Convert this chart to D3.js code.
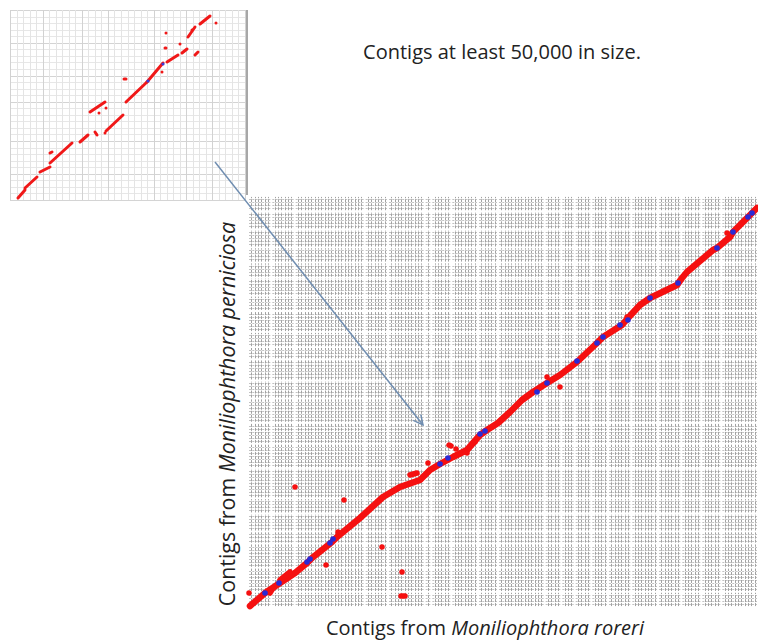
<!DOCTYPE html>
<html>
<head>
<meta charset="utf-8">
<script src="https://cdn.jsdelivr.net/npm/d3@7"></script>
<style>
  body { margin: 0; background: #fff; }
  svg { display: block; }
  .lbl { font-family: "Open Sans", sans-serif; fill: #222; }
</style>
</head>
<body>
<div id="graphic"></div>
<script>
// ---- data ----
// genome lengths, arbitrary units (main = big plot, inset = small plot)
var MAIN_X_LEN = 510, MAIN_Y_LEN = 411;
var INSET_X_LEN = 235, INSET_Y_LEN = 190;

// contigs per block (blocks are separated by a visible white gap)
var mainXBlocks = [7, 7, 21, 7, 11, 2, 6, 8, 6, 14, 5, 4, 5, 5, 7, 8, 7, 6, 6, 11];
var mainYBlocks = [5, 8, 8, 4, 6, 5, 10, 8, 7, 8, 6, 7, 4, 5, 7, 5, 6, 5, 5, 6, 6, 5];
var insetXBlocks = [5, 6, 4, 7, 5, 4, 5];
var insetYBlocks = [4, 5, 6, 4, 5, 5];

// main diagonal of forward hits (x = roreri, y = perniciosa)
var mainChain = [
  [2, 1], [17, 14], [32, 24], [47, 34], [59, 44], [64, 49], [84, 65], [89, 70],
  [112, 89], [135, 110], [152, 120], [172, 127], [182, 137], [192, 143], [205, 150],
  [219, 157], [232, 172], [239, 177], [250, 184], [262, 195], [274, 207], [285, 215],
  [299, 224], [312, 232], [329, 245], [349, 264], [355, 270], [374, 282], [380, 289],
  [392, 302], [402, 309], [429, 322], [434, 329], [439, 335], [465, 357], [469, 359],
  [482, 370], [485, 375], [499, 389], [509, 399]
];
// other forward hits [x1, y1, x2, y2]
var mainHits = [
  [1, 14, 1, 14], [22, 14, 25, 19], [32, 27, 42, 35], [78, 42, 78, 42], [90, 75, 90, 75],
  [47, 120, 47, 120], [96, 107, 96, 107], [134, 60, 134, 60], [154, 35, 154, 35],
  [153, 11, 157, 11], [162, 132, 169, 134], [180, 144, 180, 144], [201, 162, 203, 161],
  [208, 158, 208, 158], [219, 154, 219, 154], [227, 165, 227, 165], [299, 230, 299, 230],
  [312, 220, 312, 220], [379, 290, 379, 290], [479, 374, 479, 374]
];
// reverse hits
var mainReverse = [
  [17, 14], [31, 24], [59, 45], [62, 48], [82, 64], [85, 68], [192, 143], [200, 149],
  [232, 173], [237, 176], [289, 215], [299, 224], [329, 246], [349, 264], [355, 270],
  [372, 282], [380, 287], [402, 309], [430, 324], [469, 359], [485, 375], [500, 390], [504, 394]
];

var insetHits = [
  [8, 2, 15, 10], [15, 12, 27, 23], [30, 28, 40, 33], [40, 37, 62, 57], [70, 58, 78, 65],
  [96, 69, 113, 85], [80, 88, 95, 98], [116, 98, 137, 118], [137, 118, 153, 137],
  [157, 138, 168, 145], [172, 147, 177, 151], [178, 163, 185, 173], [190, 176, 200, 184],
  [185, 145, 188, 148], [40, 47, 42, 48], [85, 68, 87, 65], [95, 67, 95, 67],
  [89, 87, 89, 87], [96, 92, 96, 92], [114, 121, 116, 121], [152, 128, 152, 128],
  [155, 152, 156, 152], [156, 167, 156, 167], [170, 156, 170, 156], [206, 177, 206, 177],
  [182, 170, 182, 170]
];
var insetReverse = [[153, 136], [138, 119]];

// arrow from a point of the inset to a point of the main plot
var arrowFrom = [205, 38];   // inset units
var arrowTo = [175, 182];    // main units

var titleText = "Contigs at least 50,000 in size.";

// ---- drawing ----
var width = 758, height = 641;
var svg = d3.select('#graphic').append('svg')
  .attr('width', width).attr('height', height);

var main = {left: 248, right: 758, top: 196, bottom: 607};
var inset = {left: 10, right: 245, top: 10, bottom: 200};

var x = d3.scaleLinear().domain([0, MAIN_X_LEN]).range([main.left, main.right]);
var y = d3.scaleLinear().domain([0, MAIN_Y_LEN]).range([main.bottom, main.top]);
var ix = d3.scaleLinear().domain([0, INSET_X_LEN]).range([inset.left, inset.right]);
var iy = d3.scaleLinear().domain([0, INSET_Y_LEN]).range([inset.bottom, inset.top]);

// contig boundaries inside each block, and the block extents
function blockInfo(blocks) {
  var acc = 0, spans = [], lines = [];
  blocks.forEach(function(n) {
    spans.push([acc, acc + n]);
    for (var i = acc + 1; i < acc + n; i++) lines.push(i);
    acc += n;
  });
  return {total: acc, spans: spans, lines: lines};
}
function px(v) { return Math.round(v) + 0.5; }

// main grid: lines stop short of the white gaps between blocks
var bx = blockInfo(mainXBlocks), by = blockInfo(mainYBlocks);
var cx = d3.scaleLinear().domain([0, bx.total]).range([main.left, main.right]);
var cy = d3.scaleLinear().domain([0, by.total]).range([main.bottom, main.top]);
var pad = 0.3;

var hSegs = [], vSegs = [];
by.lines.forEach(function(j) {
  bx.spans.forEach(function(s) { hSegs.push({j: j, s: s}); });
});
bx.lines.forEach(function(i) {
  by.spans.forEach(function(s) { vSegs.push({i: i, s: s}); });
});

var gMain = svg.append('g').attr('class', 'main grid');
gMain.selectAll('line.h')
  .data(hSegs)
  .join('line').attr('class', 'h')
  .attr('x1', d => cx(d.s[0] + pad)).attr('x2', d => cx(d.s[1] - pad))
  .attr('y1', d => px(cy(d.j))).attr('y2', d => px(cy(d.j)))
  .attr('stroke', '#c2c2c2').attr('stroke-width', 1)
  .attr('stroke-dasharray', '2,1.3');
gMain.selectAll('line.v')
  .data(vSegs)
  .join('line').attr('class', 'v')
  .attr('x1', d => px(cx(d.i))).attr('x2', d => px(cx(d.i)))
  .attr('y1', d => cy(d.s[0] + pad)).attr('y2', d => cy(d.s[1] - pad))
  .attr('stroke', '#a2a2a2').attr('stroke-width', 1)
  .attr('stroke-dasharray', '3,1');

// inset grid
var ibx = blockInfo(insetXBlocks), iby = blockInfo(insetYBlocks);
var icx = d3.scaleLinear().domain([0, ibx.total]).range([inset.left, inset.right]);
var icy = d3.scaleLinear().domain([0, iby.total]).range([inset.bottom, inset.top]);
var gIn = svg.append('g').attr('class', 'inset grid');
gIn.selectAll('line.h')
  .data(d3.range(iby.total + 1))
  .join('line').attr('class', 'h')
  .attr('x1', inset.left).attr('x2', inset.right)
  .attr('y1', d => px(icy(d))).attr('y2', d => px(icy(d)))
  .attr('stroke', d => iby.lines.includes(d) ? '#e7e7e7' : '#d4d4d4');
gIn.selectAll('line.v')
  .data(d3.range(ibx.total + 1))
  .join('line').attr('class', 'v')
  .attr('x1', d => px(icx(d))).attr('x2', d => px(icx(d)))
  .attr('y1', inset.top).attr('y2', inset.bottom)
  .attr('stroke', d => ibx.lines.includes(d) ? '#e4e4e4' : '#d2d2d2');

svg.append('line')
  .attr('x1', inset.right + 2).attr('x2', inset.right + 2)
  .attr('y1', inset.top).attr('y2', main.top - 1)
  .attr('stroke', '#8a8a8a').attr('stroke-width', 1.5);

// inset hits
svg.append('g').selectAll('line')
  .data(insetHits).join('line')
  .attr('x1', d => ix(d[0])).attr('y1', d => iy(d[1]))
  .attr('x2', d => ix(d[2])).attr('y2', d => iy(d[3]))
  .attr('stroke', '#f01818').attr('stroke-width', 3).attr('stroke-linecap', 'round');
svg.append('g').selectAll('circle')
  .data(insetReverse).join('circle')
  .attr('cx', d => ix(d[0])).attr('cy', d => iy(d[1])).attr('r', 1.6)
  .attr('fill', '#3b3bd8');

// main hits
svg.append('path')
  .datum(mainChain)
  .attr('d', d3.line().x(d => x(d[0])).y(d => y(d[1])))
  .attr('fill', 'none').attr('stroke', '#f51010').attr('stroke-width', 6.5)
  .attr('stroke-linecap', 'round').attr('stroke-linejoin', 'round');
svg.append('g').selectAll('line')
  .data(mainHits).join('line')
  .attr('x1', d => x(d[0])).attr('y1', d => y(d[1]))
  .attr('x2', d => x(d[2])).attr('y2', d => y(d[3]))
  .attr('stroke', '#f51010').attr('stroke-width', 5.5).attr('stroke-linecap', 'round');
svg.append('g').selectAll('circle')
  .data(mainReverse).join('circle')
  .attr('cx', d => x(d[0])).attr('cy', d => y(d[1])).attr('r', 2.8)
  .attr('fill', '#2a2ad6');

// arrow
svg.append('defs').append('marker')
  .attr('id', 'head').attr('viewBox', '0 0 10 10')
  .attr('refX', 9).attr('refY', 5)
  .attr('markerWidth', 8).attr('markerHeight', 8)
  .attr('orient', 'auto')
  .append('path').attr('d', 'M1,1 L9,5 L1,9')
  .attr('fill', 'none').attr('stroke', '#6f8db0').attr('stroke-width', 1.2);
svg.append('line')
  .attr('x1', ix(arrowFrom[0])).attr('y1', iy(arrowFrom[1]))
  .attr('x2', x(arrowTo[0])).attr('y2', y(arrowTo[1]))
  .attr('stroke', '#6f8db0').attr('stroke-width', 1.5)
  .attr('marker-end', 'url(#head)');

// texts
svg.append('text').attr('class', 'lbl')
  .attr('x', 502).attr('y', 59).attr('text-anchor', 'middle')
  .style('font-size', '20px').text(titleText);

var xl = svg.append('text').attr('class', 'lbl')
  .attr('x', 485).attr('y', 635).attr('text-anchor', 'middle')
  .style('font-size', '20px');
xl.append('tspan').text('Contigs from ');
xl.append('tspan').style('font-style', 'italic').text('Moniliophthora roreri');

var yl = svg.append('text').attr('class', 'lbl')
  .attr('transform', 'translate(235,414) rotate(-90)')
  .attr('text-anchor', 'middle')
  .style('font-size', '21.4px');
yl.append('tspan').text('Contigs from ');
yl.append('tspan').style('font-style', 'italic').text('Moniliophthora perniciosa');
</script>
</body>
</html>
